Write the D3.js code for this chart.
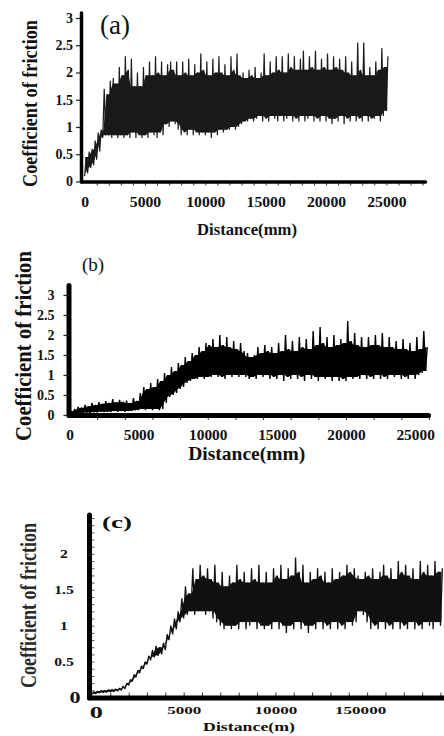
<!DOCTYPE html>
<html>
<head>
<meta charset="utf-8">
<script src="https://cdn.jsdelivr.net/npm/d3@7"></script>
<style>
  html, body { margin: 0; padding: 0; background: #fff; }
  svg { display: block; }
</style>
</head>
<body>
<svg id="chart" width="444" height="736"></svg>
<script>
// ---- panel (a): friction envelope, one hi/lo pair every 250 mm ----
const STEP_A = 250;
const HI_A = [0.45,0.55,0.6,0.75,0.9,0.95,1.7,1.6,1.85,1.9,
  1.8,2.1,1.95,2.3,2.05,2.25,1.75,2.0,1.75,2.1,
  1.95,2.2,1.95,2.3,2.0,2.2,1.95,2.15,2.2,2.05,
  2.2,1.95,2.2,2.0,2.25,1.95,2.15,2.0,2.35,2.05,
  2.2,1.95,2.25,2.0,2.3,2.0,2.15,1.95,2.3,2.05,
  2.35,1.95,2.0,1.9,2.05,1.95,2.1,1.9,2.0,2.35,
  1.95,2.2,2.0,2.3,2.05,2.3,2.0,2.35,2.1,2.3,
  2.05,2.25,2.4,2.05,2.3,2.1,2.4,2.05,2.25,2.1,
  2.35,2.05,2.3,2.1,2.25,2.05,2.3,2.0,2.2,1.95,
  2.55,2.05,2.55,1.95,2.1,1.95,2.2,2.05,2.45,2.1,
  2.3];
const LO_A = [0.1,0.15,0.25,0.3,0.4,0.55,0.8,0.85,0.85,0.8,
  0.85,0.8,0.85,0.8,0.85,0.8,0.9,0.8,0.85,0.8,
  0.85,0.8,0.9,0.85,0.8,0.9,0.85,1.05,1.0,1.1,
  1.05,0.95,0.85,0.9,0.85,0.95,0.85,0.9,0.85,0.9,
  0.85,0.9,0.8,0.9,0.85,0.95,0.9,0.95,0.95,1.0,
  0.95,1.0,1.05,1.1,1.1,1.15,1.1,1.15,1.2,1.1,
  1.15,1.1,1.2,1.15,1.1,1.2,1.1,1.15,1.2,1.1,
  1.15,1.1,1.2,1.1,1.15,1.2,1.1,1.15,1.1,1.2,
  1.1,1.15,1.05,1.15,1.1,1.2,1.05,1.15,1.1,1.2,
  1.1,1.15,1.1,1.2,1.1,1.15,1.15,1.2,1.1,1.2,
  1.3];
const X_TICKS_A = [0, 5000, 10000, 15000, 20000, 25000];
const X_LABELS_A = ['0', '5000', '10000', '15000', '20000', '25000'];
const Y_TICKS_A = [0, 0.5, 1, 1.5, 2, 2.5, 3];
const Y_LABELS_A = ['0', '0.5', '1', '1.5', '2', '2.5', '3'];

// ---- panel (b) ----
const STEP_B = 250;
const HI_B = [0.1,0.15,0.2,0.18,0.25,0.22,0.3,0.25,0.32,0.28,
  0.35,0.3,0.4,0.32,0.38,0.33,0.36,0.3,0.42,0.35,
  0.55,0.7,0.65,0.8,0.7,0.9,0.85,1.05,1.0,1.2,
  1.1,1.3,1.25,1.45,1.35,1.55,1.5,1.7,1.6,1.8,
  1.75,1.9,1.7,2.0,1.75,1.95,1.7,1.85,1.65,1.8,
  1.6,1.55,1.45,1.5,1.7,1.55,1.75,1.6,1.7,1.55,
  1.8,1.6,2.0,1.65,1.85,1.6,1.95,1.7,1.9,1.65,
  2.1,1.75,2.2,1.8,1.95,1.7,2.0,1.75,1.9,1.8,
  2.35,1.85,2.05,1.75,1.95,1.7,1.95,1.75,2.0,1.75,
  2.05,1.7,1.95,1.7,1.85,1.65,1.9,1.65,1.8,1.6,
  1.95,1.65,2.1,1.7];
const LO_B = [0.0,0.02,0.03,0.05,0.05,0.06,0.05,0.07,0.06,0.08,
  0.07,0.08,0.07,0.1,0.08,0.1,0.08,0.1,0.1,0.12,
  0.12,0.15,0.12,0.15,0.12,0.15,0.12,0.15,0.3,0.45,
  0.5,0.55,0.65,0.7,0.8,0.85,0.9,0.9,0.95,0.9,
  0.95,0.95,1.0,0.95,0.95,0.9,1.0,0.95,1.0,0.95,
  1.0,0.95,0.9,0.95,0.9,1.0,0.95,1.0,0.9,0.95,
  0.9,1.0,0.85,0.95,0.9,1.0,0.9,0.95,0.85,1.0,
  0.9,0.95,0.85,0.95,0.9,0.95,0.85,0.95,0.85,0.9,
  0.85,0.95,0.9,0.95,0.9,1.0,0.9,0.95,0.9,1.0,
  0.9,0.95,0.9,1.0,0.95,1.0,0.9,0.95,0.9,1.0,
  0.9,1.0,1.05,1.1];
const X_TICKS_B = [0, 5000, 10000, 15000, 20000, 25000];
const X_LABELS_B = ['0', '5000', '10000', '15000', '20000', '25000'];
const Y_TICKS_B = [0, 0.5, 1, 1.5, 2, 2.5, 3];
const Y_LABELS_B = ['0', '0.5', '1', '1.5', '2', '2.5', '3'];

// ---- panel (c): one pair every 200 m ----
const STEP_C = 200;
const HI_C = [0.08,0.09,0.1,0.1,0.11,0.11,0.12,0.13,0.16,0.2,
  0.25,0.32,0.38,0.44,0.5,0.58,0.66,0.72,0.7,0.76,
  0.88,1.0,1.1,1.2,1.38,1.55,1.45,1.8,1.65,1.85,
  1.7,1.8,1.65,1.85,1.6,1.75,1.55,1.7,1.6,1.85,
  1.65,1.75,1.6,1.8,1.65,1.85,1.6,1.75,1.6,1.8,
  1.7,1.85,1.65,1.8,1.7,1.95,1.75,1.85,1.6,1.75,
  1.65,1.8,1.7,1.75,1.6,1.8,1.65,1.75,1.7,1.85,
  1.75,1.8,1.7,1.65,1.75,1.7,1.8,1.65,1.75,1.85,
  1.7,1.8,1.65,1.9,1.75,1.85,1.7,1.8,1.65,1.9,
  1.75,1.85,1.7,1.9,1.75,1.8];
const LO_C = [0.04,0.05,0.06,0.07,0.07,0.08,0.08,0.09,0.1,0.12,
  0.17,0.22,0.28,0.34,0.4,0.46,0.52,0.56,0.58,0.6,
  0.66,0.8,0.88,0.95,1.05,1.1,1.15,1.2,1.15,1.2,
  1.2,1.15,1.2,1.1,1.05,1.0,0.95,1.0,0.95,1.0,
  0.95,1.05,0.95,1.0,1.05,0.95,1.0,0.95,1.0,0.95,
  1.05,0.95,1.0,0.9,1.0,0.95,1.05,0.95,1.0,0.9,
  1.0,0.95,1.05,0.95,1.0,0.95,1.05,0.95,1.0,0.95,
  1.05,1.0,1.05,1.2,1.15,1.05,0.95,1.0,0.95,1.05,
  0.95,1.0,0.95,1.05,0.95,1.0,0.95,1.05,0.95,1.0,
  0.95,1.05,1.0,0.95,1.05,1.0];
const X_TICKS_C = [0, 5000, 10000, 15000];
const X_LABELS_C = ['0', '5000', '10000', '150000'];  // typo kept as in the figure
const Y_TICKS_C = [0, 0.5, 1, 1.5, 2];
const Y_LABELS_C = ['0', '0.5', '1', '1.5', '2'];

const SERIF = "'Liberation Serif', 'Times New Roman', serif";
const svg = d3.select('#chart');

// widen a label horizontally by factor k (keeps its anchor point)
function stretch(sel, k) {
  sel.each(function () {
    const t = d3.select(this);
    const x = +t.attr('x') || 0, y = +t.attr('y') || 0;
    t.attr('x', 0).attr('y', 0).attr('transform', `translate(${x},${y}) scale(${k},1)`);
  });
}

// text fitted to a given length by scaling the font width
function fitText(g, txt, cx, cy, size, len, rotate, opts) {
  const t = g.append('text')
    .attr('text-anchor', 'middle')
    .attr('font-family', SERIF).attr('font-weight', opts.weight || 'bold')
    .attr('font-size', size).attr('fill', opts.fill || '#111')
    .text(txt);
  const k = len / t.node().getComputedTextLength();
  t.attr('transform', `translate(${cx},${cy})` + (rotate ? ' rotate(-90)' : '') + ` scale(${k},1)`);
  return t;
}

function drawPanel(p) {
  const g = svg.append('g');
  const x = d3.scaleLinear().domain(p.xDomain).range(p.xRange);
  const y = d3.scaleLinear().domain(p.yDomain).range(p.yRange);
  const n = p.hi.length;
  const nb = i => [Math.max(i - 1, 0), i, Math.min(i + 1, n - 1)];

  // dense core of the trace: what the neighbouring samples all cover
  const core = d3.area()
    .x((d, i) => x(i * p.step + p.step / 4))
    .y0((d, i) => y(d3.max(nb(i), j => p.lo[j])))
    .y1((d, i) => y(d3.min(nb(i), j => p.hi[j])));
  g.append('path')
    .attr('d', core(p.hi))
    .attr('fill', p.lineColor);

  // noisy trace: lo -> hi zigzag per sample
  const pts = [];
  p.hi.forEach((h, i) => {
    const d = i * p.step;
    pts.push([x(d), y(p.lo[i])]);
    pts.push([x(d + p.step / 2), y(h)]);
  });
  g.append('path')
    .attr('d', d3.line()(pts))
    .attr('fill', 'none')
    .attr('stroke', p.lineColor)
    .attr('stroke-width', p.lineW)
    .attr('stroke-linejoin', 'bevel');

  // minor ticks
  const xm = p.minorUp ? d3.axisTop(x) : d3.axisBottom(x);
  g.append('g')
    .attr('transform', `translate(0,${y(0)})`)
    .call(xm.tickValues(p.xMinor).tickSize(p.minorSize).tickFormat(''))
    .call(a => a.select('.domain').remove())
    .call(a => a.selectAll('line').attr('stroke', '#333').attr('stroke-width', 1));
  if (p.yMinor) {
    g.append('g')
      .attr('transform', `translate(${x.range()[0]},0)`)
      .call(d3.axisRight(y).tickValues(p.yMinor).tickSize(p.axisW / 2 + 3).tickFormat(''))
      .call(a => a.select('.domain').remove())
      .call(a => a.selectAll('line').attr('stroke', '#555').attr('stroke-width', 1));
  }

  // x axis
  const xa = g.append('g')
    .attr('transform', `translate(0,${y(0)})`)
    .call(d3.axisBottom(x).tickValues(p.xTicks).tickFormat((d, i) => p.xLabels[i])
      .tickSize(0).tickSizeOuter(0));
  xa.select('.domain').attr('stroke', '#000').attr('stroke-width', p.axisW).attr('stroke-linecap', 'round');
  xa.selectAll('text')
    .attr('dy', 0).attr('y', p.xLabelBase)
    .attr('fill', '#111').attr('font-family', SERIF).attr('font-weight', 'bold')
    .attr('font-size', p.xFont);
  if (p.xLabelAdjust) xa.selectAll('text').each(p.xLabelAdjust);
  stretch(xa.selectAll('text'), p.xK);

  // y axis
  const ya = g.append('g')
    .attr('transform', `translate(${x.range()[0]},0)`)
    .call(d3.axisLeft(y).tickValues(p.yTicks).tickFormat((d, i) => p.yLabels[i])
      .tickSize(p.yTickSize).tickSizeOuter(0).tickPadding(p.yPad));
  ya.select('.domain').attr('stroke', '#000').attr('stroke-width', p.axisW).attr('stroke-linecap', 'round');
  ya.selectAll('.tick line').attr('stroke', '#222').attr('stroke-width', 1.2);
  ya.selectAll('text')
    .attr('fill', '#111').attr('font-family', SERIF).attr('font-weight', 'bold')
    .attr('font-size', p.yFont);
  if (p.yLabelAdjust) ya.selectAll('text').each(p.yLabelAdjust);
  stretch(ya.selectAll('text'), p.yK);

  // titles
  fitText(g, p.xTitleText, p.xTitle[0], p.xTitle[1], p.xTitle[2], p.xTitle[3], false, {});
  fitText(g, 'Coefficient of friction', p.yTitle[0], p.yTitle[1], p.yTitle[2], p.yTitle[3], true,
    { fill: p.yTitleColor });
  const tag = g.append('text')
    .attr('x', p.tag[0]).attr('y', p.tag[1])
    .attr('font-family', SERIF).attr('font-weight', p.tagBold ? 'bold' : 'normal')
    .attr('font-size', p.tag[2]).attr('fill', '#111')
    .text(p.tagText);
  if (p.tag[3]) {
    const k = p.tag[3] / tag.node().getComputedTextLength();
    tag.attr('x', 0).attr('y', 0).attr('transform', `translate(${p.tag[0]},${p.tag[1]}) scale(${k},1)`);
  }
}

// (a)
drawPanel({
  hi: HI_A, lo: LO_A, step: STEP_A,
  xDomain: [-300, 28200], xRange: [81, 425],
  yDomain: [0, 3.1], yRange: [181.5, 12.55],
  lineColor: '#1a1a1a', lineW: 1.2, axisW: 3.5,
  xTicks: X_TICKS_A, xLabels: X_LABELS_A, xLabelBase: 25.5, xFont: 14, xK: 1.12,
  xMinor: d3.range(1000, 28001, 1000), minorSize: 4,
  yTicks: Y_TICKS_A, yLabels: Y_LABELS_A, yTickSize: 5, yPad: 3, yFont: 14, yK: 1,
  xTitleText: 'Distance(mm)', xTitle: [247, 235, 17, 100],
  yTitle: [37, 103.5, 21, 167],
  tagText: '(a)', tag: [100, 34, 27]
});

// (b)
drawPanel({
  hi: HI_B, lo: LO_B, step: STEP_B,
  xDomain: [-72, 25930], xRange: [68.5, 428],
  yDomain: [0, 3.25], yRange: [415, 285],
  lineColor: '#000', lineW: 1.4, axisW: 5,
  xTicks: X_TICKS_B, xLabels: X_LABELS_B, xLabelBase: 25, xFont: 14, xK: 1.1,
  xMinor: d3.range(2000, 26001, 2000), minorSize: 5,
  yTicks: Y_TICKS_B, yLabels: Y_LABELS_B, yTickSize: 5, yPad: 9, yFont: 14, yK: 1,
  xTitleText: 'Distance(mm)', xTitle: [246.7, 460, 19, 117],
  yTitle: [31, 346, 23, 190],
  tagText: '(b)', tag: [82, 271, 19]
});

// (c)
drawPanel({
  hi: HI_C, lo: LO_C, step: STEP_C,
  xDomain: [-160, 19300], xRange: [89, 446],
  yDomain: [0, 2.55], yRange: [697.5, 514.4],
  lineColor: '#111', lineW: 1.3, axisW: 5,
  xTicks: X_TICKS_C, xLabels: X_LABELS_C, xLabelBase: 16.5, xFont: 11, xK: 1.55,
  xLabelAdjust: function (d) {
    if (d === 0) d3.select(this).attr('font-size', 17).attr('y', 20.5).attr('x', 4);
    if (d === 15000) d3.select(this).attr('x', -7);
  },
  xMinor: d3.range(1000, 19001, 1000), minorUp: true, minorSize: 5,
  yMinor: d3.range(0.1, 2.51, 0.1),
  yTicks: Y_TICKS_C, yLabels: Y_LABELS_C, yTickSize: 0, yPad: 0, yFont: 12, yK: 1.3,
  yLabelAdjust: function (d) {
    const t = d3.select(this).attr('text-anchor', 'middle').attr('x', -25);
    if (d === 0) t.attr('font-size', 17).attr('x', -14);
  },
  xTitleText: 'Distance(m)', xTitle: [249, 731, 12, 92],
  yTitle: [36, 605.5, 23, 165], yTitleColor: '#2a2a2a',
  tagText: '(c)', tag: [102, 527.5, 16, 30], tagBold: true
});
</script>
</body>
</html>
